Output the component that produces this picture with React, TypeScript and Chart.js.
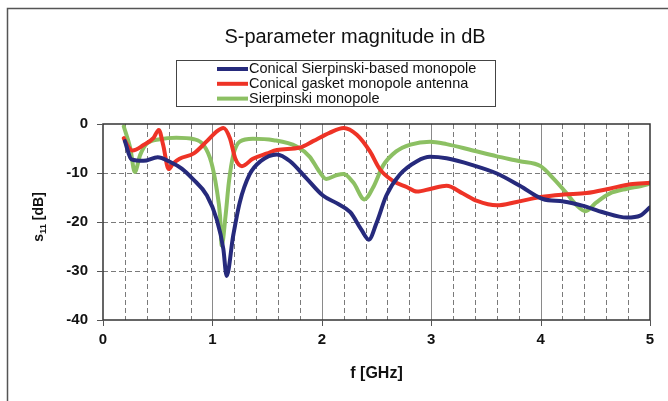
import React, { useEffect, useRef } from "react";
import { Chart, registerables } from "chart.js";

Chart.register(...registerables);

const TITLE = "S-parameter magnitude in dB";
const X_TITLE = "f [GHz]";
const SERIES_NAMES = [
  "Conical Sierpinski-based monopole",
  "Conical gasket monopole antenna",
  "Sierpinski monopole",
];
const SERIES_COLORS = ["#262a7c", "#ee3326", "#8cc063"];

const freqConical = [0.2, 0.26, 0.37, 0.5, 0.61, 0.72, 0.82, 0.95, 1.04, 1.1, 1.13, 1.19, 1.25, 1.34, 1.44, 1.59, 1.71, 1.86, 2.01, 2.14, 2.26, 2.36, 2.43, 2.5, 2.59, 2.71, 2.87, 2.99, 3.14, 3.38, 3.6, 3.81, 4.02, 4.21, 4.39, 4.57, 4.79, 4.91, 5.0];
const s11Conical = [-3.5, -7.2, -7.5, -6.8, -7.7, -9.1, -11.2, -14.6, -19.5, -25.5, -31, -22.8, -16, -10.3, -7.6, -6.2, -7.6, -11.1, -14.6, -16.2, -18, -21.5, -23.6, -20.2, -14.6, -10.4, -7.6, -6.7, -7, -8.4, -10.1, -12.6, -15.3, -15.8, -16.7, -18, -19.1, -18.7, -17];

const freqGasket = [0.19, 0.23, 0.27, 0.37, 0.46, 0.51, 0.55, 0.6, 0.64, 0.7, 0.83, 0.95, 1.04, 1.1, 1.16, 1.21, 1.27, 1.37, 1.5, 1.59, 1.8, 1.92, 2.07, 2.2, 2.32, 2.44, 2.53, 2.65, 2.78, 2.87, 3.0, 3.14, 3.29, 3.42, 3.6, 3.78, 4.0, 4.21, 4.42, 4.63, 4.82, 5.0];
const s11Gasket = [-2.9, -4.6, -5.4, -4.3, -2.9, -1.2, -4.3, -9.2, -8.1, -7.1, -6.0, -3.5, -1.5, -0.8, -2.9, -7.1, -8.6, -7.1, -6.0, -5.3, -4.8, -3.5, -1.8, -0.8, -2.2, -5.6, -9.2, -11.6, -12.9, -13.8, -13.2, -12.6, -14.2, -15.7, -16.6, -15.9, -14.9, -14.4, -14.1, -13.2, -12.3, -12];

const freqSierpinski = [0.19, 0.25, 0.29, 0.34, 0.4, 0.52, 0.67, 0.83, 0.92, 0.99, 1.04, 1.07, 1.085, 1.12, 1.15, 1.19, 1.25, 1.37, 1.56, 1.77, 1.89, 1.98, 2.04, 2.14, 2.2, 2.29, 2.39, 2.47, 2.56, 2.68, 2.81, 2.99, 3.14, 3.38, 3.6, 3.81, 4.0, 4.12, 4.24, 4.33, 4.41, 4.51, 4.63, 4.79, 4.91, 5.0];
const s11Sierpinski = [-0.5, -5, -9.8, -6.3, -4, -3.1, -2.8, -3.1, -4.3, -7.8, -13.4, -18.8, -24.8, -18.8, -12, -6.4, -3.6, -3, -3.3, -4.6, -6.7, -9.8, -11.2, -10.4, -10.2, -12, -15.4, -12.9, -8.5, -5.6, -4.2, -3.6, -4.1, -5.4, -6.6, -7.6, -8.6, -11.2, -14.2, -16.6, -17.8, -16, -14.2, -13.2, -12.7, -12.2];

const X_MIN = 0;
const X_MAX = 5;
const X_MINOR_STEP = 0.2;
const xTickValues = [0, 1, 2, 3, 4, 5];
const yTickValues = [0, -10, -20, -30, -40];

const FONT = "'Liberation Sans', Arial, Helvetica, sans-serif";

function pts(xs: number[], ys: number[]) {
  return xs.map((x, i) => ({ x, y: ys[i] }));
}

const decorPlugin = {
  id: "decor",
  beforeDatasetsDraw(chart: any) {
    const { ctx, chartArea, scales } = chart;
    const { left, right, top, bottom } = chartArea;
    const xs = scales.x;
    const ys = scales.y;
    ctx.save();
    // minor dashed verticals
    ctx.strokeStyle = "#7a7a7a";
    ctx.lineWidth = 1;
    ctx.setLineDash([5, 3]);
    const n = Math.round((X_MAX - X_MIN) / X_MINOR_STEP);
    for (let i = 1; i < n; i++) {
      if (i % 5 === 0) continue;
      const px = Math.round(xs.getPixelForValue(X_MIN + i * X_MINOR_STEP)) + 0.5;
      ctx.beginPath();
      ctx.moveTo(px, top);
      ctx.lineTo(px, bottom);
      ctx.stroke();
    }
    // dashed horizontals
    yTickValues.forEach((v) => {
      if (v === 0 || v === -40) return;
      const py = Math.round(ys.getPixelForValue(v)) + 0.5;
      ctx.beginPath();
      ctx.moveTo(left, py);
      ctx.lineTo(right, py);
      ctx.stroke();
    });
    // solid major verticals
    ctx.setLineDash([]);
    ctx.strokeStyle = "#8a8a8a";
    xTickValues.forEach((v) => {
      if (v === X_MIN || v === X_MAX) return;
      const px = Math.round(xs.getPixelForValue(v)) + 0.5;
      ctx.beginPath();
      ctx.moveTo(px, top);
      ctx.lineTo(px, bottom);
      ctx.stroke();
    });
    ctx.restore();
  },
  afterDatasetsDraw(chart: any) {
    const { ctx, chartArea, scales } = chart;
    const { left, right, top, bottom } = chartArea;
    ctx.save();
    ctx.strokeStyle = "#333";
    ctx.lineWidth = 1.5;
    ctx.strokeRect(left, top, right - left, bottom - top);
    ctx.lineWidth = 1;
    ctx.strokeStyle = "#555";
    yTickValues.forEach((v) => {
      const py = Math.round(scales.y.getPixelForValue(v)) + 0.5;
      ctx.beginPath();
      ctx.moveTo(left - 6, py);
      ctx.lineTo(left, py);
      ctx.stroke();
    });
    xTickValues.forEach((v) => {
      const px = Math.round(scales.x.getPixelForValue(v)) + 0.5;
      ctx.beginPath();
      ctx.moveTo(px, bottom);
      ctx.lineTo(px, bottom + 6);
      ctx.stroke();
    });
    ctx.restore();
  },
  afterDraw(chart: any) {
    const { ctx, chartArea } = chart;
    ctx.save();
    // outer frame
    ctx.strokeStyle = "#555";
    ctx.lineWidth = 1.5;
    ctx.beginPath();
    ctx.moveTo(7.5, 401);
    ctx.lineTo(7.5, 8.5);
    ctx.lineTo(668, 8.5);
    ctx.stroke();

    // title
    ctx.fillStyle = "#111";
    ctx.font = `20px ${FONT}`;
    ctx.textAlign = "center";
    ctx.textBaseline = "middle";
    ctx.fillText(TITLE, 355, 37);

    // legend box
    const bx = 176.5, by = 60.5, bw = 319, bh = 46;
    ctx.fillStyle = "#fff";
    ctx.fillRect(bx, by, bw, bh);
    ctx.strokeStyle = "#444";
    ctx.lineWidth = 1;
    ctx.strokeRect(bx, by, bw, bh);
    ctx.font = `14.5px ${FONT}`;
    ctx.textAlign = "left";
    chart.data.datasets.forEach((ds: any, i: number) => {
      const ry = 69 + i * 14.8;
      ctx.strokeStyle = ds.borderColor;
      ctx.lineWidth = 4;
      ctx.beginPath();
      ctx.moveTo(217, ry);
      ctx.lineTo(248, ry);
      ctx.stroke();
      ctx.fillStyle = "#111";
      ctx.fillText(ds.label, 249, ry);
    });

    // x title
    ctx.font = `bold 16px ${FONT}`;
    ctx.textAlign = "center";
    ctx.fillText(X_TITLE, (chartArea.left + chartArea.right) / 2 + 0, 374);

    // y title with subscript
    ctx.translate(38, 217);
    ctx.rotate(-Math.PI / 2);
    const mainFont = `bold 14px ${FONT}`;
    const subFont = `bold 9.5px ${FONT}`;
    ctx.font = mainFont;
    const wS = ctx.measureText("s").width;
    const wRest = ctx.measureText(" [dB]").width;
    ctx.font = subFont;
    const wSub = ctx.measureText("11").width;
    const total = wS + wSub + wRest;
    let cx = -total / 2;
    ctx.textAlign = "left";
    ctx.textBaseline = "alphabetic";
    ctx.font = mainFont;
    ctx.fillText("s", cx, 5);
    cx += wS;
    ctx.font = subFont;
    ctx.fillText("11", cx, 8);
    cx += wSub;
    ctx.font = mainFont;
    ctx.fillText(" [dB]", cx, 5);
    ctx.restore();
  },
};

export default function App() {
  const ref = useRef<HTMLCanvasElement>(null);
  useEffect(() => {
    document.body.style.margin = "0";
    const canvas = ref.current;
    if (!canvas) return;
    const chart = new Chart(canvas, {
      type: "line",
      data: {
        datasets: [
          { label: SERIES_NAMES[0], data: pts(freqConical, s11Conical), borderColor: SERIES_COLORS[0] },
          { label: SERIES_NAMES[1], data: pts(freqGasket, s11Gasket), borderColor: SERIES_COLORS[1] },
          { label: SERIES_NAMES[2], data: pts(freqSierpinski, s11Sierpinski), borderColor: SERIES_COLORS[2] },
        ].map((d) => ({
          ...d,
          borderWidth: 4,
          pointRadius: 0,
          fill: false,
          cubicInterpolationMode: "monotone" as const,
          borderCapStyle: "round" as const,
          borderJoinStyle: "round" as const,
        })),
      },
      options: {
        responsive: false,
        animation: false,
        devicePixelRatio: 1,
        layout: { padding: { left: 0, top: 124, right: 18, bottom: 51 } },
        plugins: { legend: { display: false }, title: { display: false }, tooltip: { enabled: false } },
        scales: {
          x: {
            type: "linear",
            min: X_MIN,
            max: X_MAX,
            grid: { display: false, drawTicks: false },
            border: { display: false },
            ticks: {
              stepSize: 1,
              maxRotation: 0,
              padding: 11,
              color: "#111",
              font: { family: FONT, size: 15, weight: "bold" },
            },
            afterFit: (s: any) => {
              s.height = 30;
            },
          },
          y: {
            type: "linear",
            min: -40,
            max: 0,
            grid: { display: false, drawTicks: false },
            border: { display: false },
            ticks: {
              stepSize: 10,
              padding: 15,
              color: "#111",
              font: { family: FONT, size: 15, weight: "bold" },
            },
            afterFit: (s: any) => {
              s.width = 103;
            },
          },
        },
      },
      plugins: [decorPlugin],
    });
    return () => chart.destroy();
  }, []);
  return (
    <div style={{ position: "absolute", left: 0, top: 0, width: 668, height: 401, background: "#fff" }}>
      <canvas ref={ref} width={668} height={401} style={{ display: "block", width: 668, height: 401 }} />
    </div>
  );
}
